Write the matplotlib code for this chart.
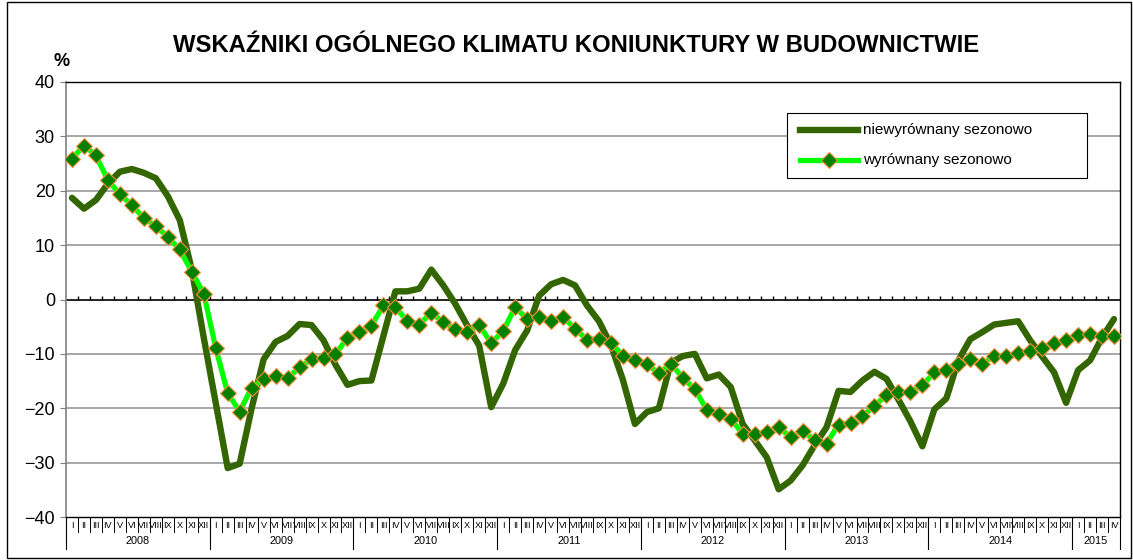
import matplotlib
matplotlib.use('Agg')
import matplotlib.pyplot as plt
import numpy as np
from matplotlib.lines import Line2D
from matplotlib.patches import Rectangle
import matplotlib.transforms as mtransforms

plt.rcParams['font.family'] = ['Liberation Sans', 'DejaVu Sans']

title = "WSKAŹNIKI OGÓLNEGO KLIMATU KONIUNKTURY W BUDOWNICTWIE"
y_unit = "%"
years = ['2008', '2009', '2010', '2011', '2012', '2013', '2014', '2015']
months_in_year = [12, 12, 12, 12, 12, 12, 12, 4]
month_names = ['I', 'II', 'III', 'IV', 'V', 'VI', 'VII', 'VIII', 'IX', 'X', 'XI', 'XII']
series_labels = ['niewyrównany sezonowo', 'wyrównany sezonowo']

unadjusted = [
    18.7, 16.7, 18.3, 21.3, 23.5, 24.0, 23.3, 22.3, 19.0, 14.6, 5.5, -7.0,
    -19.0, -31.0, -30.2, -20.0, -11.0, -7.8, -6.7, -4.5, -4.7, -7.5, -12.0, -15.7,
    -15.0, -14.9, -6.7, 1.5, 1.5, 2.0, 5.5, 2.6, -0.8, -4.8, -8.5, -19.8,
    -15.5, -9.3, -5.7, 0.7, 2.8, 3.6, 2.6, -1.1, -4.0, -8.4, -14.8, -22.9,
    -20.7, -20.0, -11.6, -10.4, -10.0, -14.5, -13.8, -16.1, -22.9, -25.9, -29.0, -34.9,
    -33.3, -30.5, -26.8, -23.5, -16.8, -17.0, -14.9, -13.3, -14.6, -18.4, -22.4, -27.0,
    -20.2, -18.2, -11.2, -7.3, -6.0, -4.6, -4.3, -4.0, -7.5, -10.5, -13.4, -19.0,
    -13.0, -11.2, -7.0, -3.6,
]

adjusted = [
    25.9, 28.3, 26.5, 21.9, 19.4, 17.3, 15.0, 13.5, 11.5, 9.2, 5.1, 1.1,
    -8.9, -17.2, -20.6, -16.2, -14.7, -14.0, -14.5, -12.5, -11.0, -10.7, -10.1, -7.0,
    -5.9, -4.8, -1.1, -1.4, -4.0, -4.6, -2.4, -4.2, -5.4, -5.9, -4.7, -8.0,
    -5.8, -1.4, -3.6, -3.3, -3.9, -3.2, -5.4, -7.4, -7.2, -8.0, -10.3, -11.1,
    -11.9, -13.6, -11.8, -14.4, -16.5, -20.3, -21.0, -21.9, -24.7, -24.7, -24.3, -23.5,
    -25.3, -24.1, -25.9, -26.5, -23.0, -22.7, -21.5, -19.5, -17.6, -17.1, -17.0, -15.8,
    -13.4, -13.0, -11.8, -11.0, -11.9, -10.3, -10.4, -9.8, -9.4, -9.0, -8.0, -7.5,
    -6.5, -6.3, -6.8, -6.8,
]

DARK = '#336600'
LIGHT = '#00FF00'
MFACE = '#008000'
MEDGE = '#FF8C3C'

W, H = 1133, 560
fig = plt.figure(figsize=(W / 100, H / 100), dpi=100)
ax_l, ax_r, ax_t, ax_b = 66, 1120, 82, 517
ax = fig.add_axes([ax_l / W, 1 - ax_b / H, (ax_r - ax_l) / W, (ax_b - ax_t) / H])

n = len(unadjusted)
x = np.arange(n) + 0.5

for yv in range(-30, 31, 10):
    if yv != 0:
        ax.axhline(yv, color='#A0A0A0', lw=1.3, zorder=1)
ax.axhline(0, color='black', lw=1.2, zorder=2)
ax.vlines(np.arange(1, n), 0, 0.6, color='black', lw=1.0, zorder=2)

ax.plot(x, unadjusted, color=DARK, lw=4.6, solid_joinstyle='round',
        solid_capstyle='round', zorder=3)
ax.plot(x, adjusted, color=LIGHT, lw=3.8, marker='D', ms=8.0,
        mfc=MFACE, mec=MEDGE, mew=0.8, zorder=4)

ax.set_xlim(0, n)
ax.set_ylim(-40, 40)
ax.set_yticks(range(-40, 41, 10))
ax.set_xticks([])
ax.tick_params(axis='y', length=4, color='#808080', labelsize=13, pad=4)
for s in ['top', 'right', 'bottom']:
    ax.spines[s].set_color('black')
    ax.spines[s].set_linewidth(1.0)
ax.spines['left'].set_color('#808080')
ax.spines['left'].set_linewidth(1.2)

# category labels below the axis
trans = mtransforms.blended_transform_factory(ax.transData, ax.transAxes)
ph = ax_b - ax_t
for b in range(n + 1):
    ax.add_line(Line2D([b, b], [0, -15 / ph], transform=trans, clip_on=False,
                       color='black', lw=0.7))
for i in range(n):
    ax.text(i + 0.5, -8 / ph, month_names[i % 12], transform=trans, ha='center',
            va='center', fontsize=6.6, clip_on=False)
start = 0
for yr, m in zip(years, months_in_year):
    ax.add_line(Line2D([start, start], [0, -32 / ph], transform=trans, clip_on=False,
                       color='black', lw=0.8))
    ax.text(start + m / 2, -24 / ph, yr, transform=trans, ha='center', va='center',
            fontsize=7.8, clip_on=False)
    start += m
ax.add_line(Line2D([start, start], [0, -32 / ph], transform=trans, clip_on=False,
                   color='black', lw=0.8))

# title and unit
fig.text(576.5 / W, 1 - 45 / H, title, ha='center', va='center', fontsize=17.2,
         fontweight='bold')
fig.text(62 / W, 1 - 61 / H, y_unit, ha='center', va='center', fontsize=13,
         fontweight='bold')

# legend
fig.add_artist(Rectangle((787 / W, 1 - 178 / H), 300 / W, 65 / H,
                         transform=fig.transFigure, facecolor='white',
                         edgecolor='black', lw=0.8, zorder=5))
fig.add_artist(Line2D([800 / W, 858 / W], [1 - 130 / H, 1 - 130 / H],
                      transform=fig.transFigure, color=DARK, lw=4.6, zorder=6))
fig.add_artist(Line2D([800 / W, 858 / W], [1 - 160 / H, 1 - 160 / H],
                      transform=fig.transFigure, color=LIGHT, lw=3.8, zorder=6))
fig.add_artist(Line2D([829 / W], [1 - 160 / H], transform=fig.transFigure,
                      marker='D', ms=8.0, mfc=MFACE, mec=MEDGE, mew=0.8,
                      lw=0, zorder=7))
fig.text(863 / W, 1 - 130 / H, series_labels[0], ha='left', va='center',
         fontsize=11, zorder=7)
fig.text(863 / W, 1 - 160 / H, series_labels[1], ha='left', va='center',
         fontsize=11, zorder=7)

# outer chart border
fig.add_artist(Rectangle((7 / W, 2 / H), 1124 / W, 556 / H,
                         transform=fig.transFigure, fill=False,
                         edgecolor='black', lw=1.0, zorder=0))

fig.savefig('out.png', dpi=100)
